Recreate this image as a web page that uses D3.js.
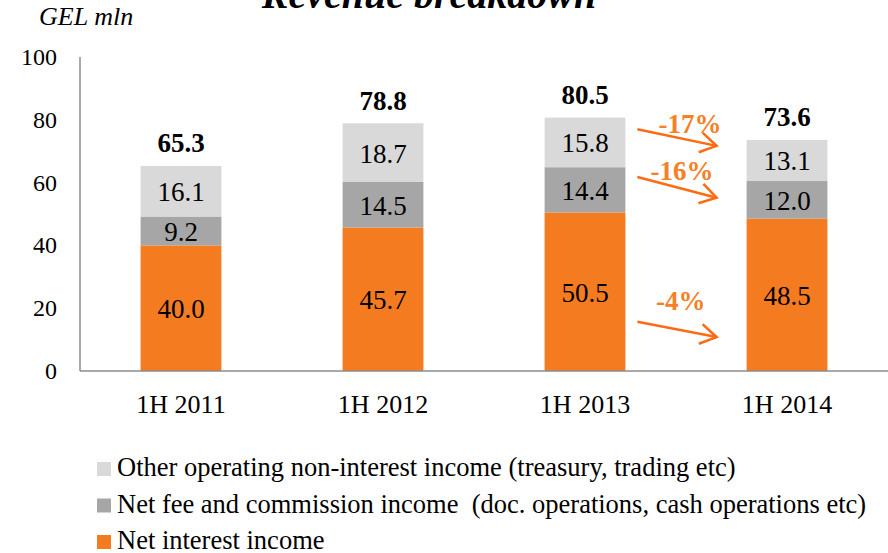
<!DOCTYPE html>
<html>
<head>
<meta charset="utf-8">
<script src="https://cdn.jsdelivr.net/npm/d3@7"></script>
<style>
  body { margin: 0; background: #fff; }
  svg text { font-family: "Liberation Serif", "Times New Roman", serif; }
</style>
</head>
<body>
<div id="chart"></div>
<script>
// Chart data
const periods = ["1H 2011", "1H 2012", "1H 2013", "1H 2014"];
const netInterest = [40.0, 45.7, 50.5, 48.5];
const netFee = [9.2, 14.5, 14.4, 12.0];
const otherIncome = [16.1, 18.7, 15.8, 13.1];
const totals = [65.3, 78.8, 80.5, 73.6];
const yTicks = [0, 20, 40, 60, 80, 100];

const seriesNames = [
    "Other operating non-interest income (treasury, trading etc)",
    "Net fee and commission income  (doc. operations, cash operations etc)",
    "Net interest income"
];

// change annotations between 1H 2013 and 1H 2014
const changeLabels = ["-17%", "-16%", "-4%"];
const arrowStart = [77.0, 61.8, 15.7];   // in GEL mln (y units)
const arrowEnd = [71.7, 55.2, 10.8];
const labelLevel = [75.8, 60.8, 19.4];

const width = 888, height = 553;
const margin = {left: 80, right: 0, top: 57, bottom: 182};

const svg = d3.select("#chart").append("svg")
    .attr("width", width)
    .attr("height", height);

const x = d3.scaleBand()
    .domain(periods)
    .range([margin.left, width - margin.right])
    .paddingInner(0.6)
    .paddingOuter(0.3);

const y = d3.scaleLinear()
    .domain([0, 100])
    .range([height - margin.bottom, margin.top]);

const colors = {other: "#d9d9d9", fee: "#a6a6a6", interest: "#f47b20"};

// stacked data
const rows = periods.map((p, i) => ({
    period: p,
    interest: netInterest[i],
    fee: netFee[i],
    other: otherIncome[i]
}));
const stack = d3.stack().keys(["interest", "fee", "other"]);
const layers = stack(rows);

// y axis line
svg.append("line")
    .attr("x1", margin.left).attr("x2", margin.left)
    .attr("y1", y(100)).attr("y2", y(0))
    .style("stroke", "#8c8c8c").style("stroke-width", 1.5);

// y tick labels
svg.append("g").selectAll("text")
    .data(yTicks)
    .enter().append("text")
    .attr("x", 57)
    .attr("y", d => y(d) + 8)
    .attr("text-anchor", "end")
    .style("font-size", "24px")
    .text(d => d);

// bars
layers.forEach(layer => {
    svg.append("g").selectAll("rect")
        .data(layer)
        .enter().append("rect")
        .attr("x", d => x(d.data.period))
        .attr("width", x.bandwidth())
        .attr("y", d => y(d[1]))
        .attr("height", d => y(d[0]) - y(d[1]))
        .attr("fill", colors[layer.key]);

    svg.append("g").selectAll("text")
        .data(layer)
        .enter().append("text")
        .attr("x", d => x(d.data.period) + x.bandwidth() / 2)
        .attr("y", d => y((d[0] + d[1]) / 2) + 10)
        .attr("text-anchor", "middle")
        .style("font-size", "27px")
        .text(d => d.data[layer.key].toFixed(1));
});

// x axis line
svg.append("line")
    .attr("x1", margin.left).attr("x2", width)
    .attr("y1", y(0)).attr("y2", y(0))
    .style("stroke", "#8c8c8c").style("stroke-width", 1.5);

// totals
svg.append("g").selectAll("text")
    .data(totals)
    .enter().append("text")
    .attr("x", (d, i) => x(periods[i]) + x.bandwidth() / 2)
    .attr("y", d => y(d) - 14)
    .attr("text-anchor", "middle")
    .style("font-size", "27px")
    .style("font-weight", "bold")
    .text(d => d.toFixed(1));

// x labels
svg.append("g").selectAll("text")
    .data(periods)
    .enter().append("text")
    .attr("x", d => x(d) + x.bandwidth() / 2)
    .attr("y", y(0) + 42)
    .attr("text-anchor", "middle")
    .style("font-size", "26px")
    .text(d => d);

// change arrows
const arrowColor = "#ff6a13";
const x0 = x(periods[2]) + x.bandwidth() + 12;
const x1 = x(periods[3]) - 30;
changeLabels.forEach((label, i) => {
    const ya = y(arrowStart[i]), yb = y(arrowEnd[i]);
    svg.append("line")
        .attr("x1", x0).attr("y1", ya)
        .attr("x2", x1).attr("y2", yb)
        .style("stroke", arrowColor).style("stroke-width", 2.5);
    const ang = Math.atan2(yb - ya, x1 - x0);
    const len = 19, spread = 0.55;
    const p1 = [x1 - len * Math.cos(ang - spread), yb - len * Math.sin(ang - spread)];
    const p2 = [x1 - len * Math.cos(ang + spread), yb - len * Math.sin(ang + spread)];
    svg.append("path")
        .attr("d", `M${p1[0]},${p1[1]}L${x1},${yb}L${p2[0]},${p2[1]}`)
        .style("fill", "none")
        .style("stroke", arrowColor).style("stroke-width", 2.5);
    // labels sit a bit further left the lower they are
    svg.append("text")
        .attr("x", x1 + 5 - i * 8)
        .attr("y", y(labelLevel[i]))
        .attr("text-anchor", "end")
        .style("font-size", "27px")
        .style("font-weight", "bold")
        .style("fill", "#f58025")
        .text(label);
});

// unit label and title
svg.append("text")
    .attr("x", 39).attr("y", 25)
    .style("font-size", "26px")
    .style("font-style", "italic")
    .text("GEL mln");

svg.append("text")
    .attr("x", 429).attr("y", 8)
    .attr("text-anchor", "middle")
    .style("font-size", "40px")
    .style("font-style", "italic")
    .style("font-weight", "bold")
    .text("Revenue breakdown");

// legend
const legendColors = [colors.other, colors.fee, colors.interest];
const legend = svg.append("g").selectAll("g")
    .data(seriesNames)
    .enter().append("g")
    .attr("transform", (d, i) => `translate(97, ${462 + i * 36.5})`);
legend.append("rect")
    .attr("width", 14).attr("height", 14)
    .attr("fill", (d, i) => legendColors[i]);
legend.append("text")
    .attr("x", 20).attr("y", 14)
    .style("font-size", "26.5px")
    .style("white-space", "pre")
    .text(d => d);
</script>
</body>
</html>
